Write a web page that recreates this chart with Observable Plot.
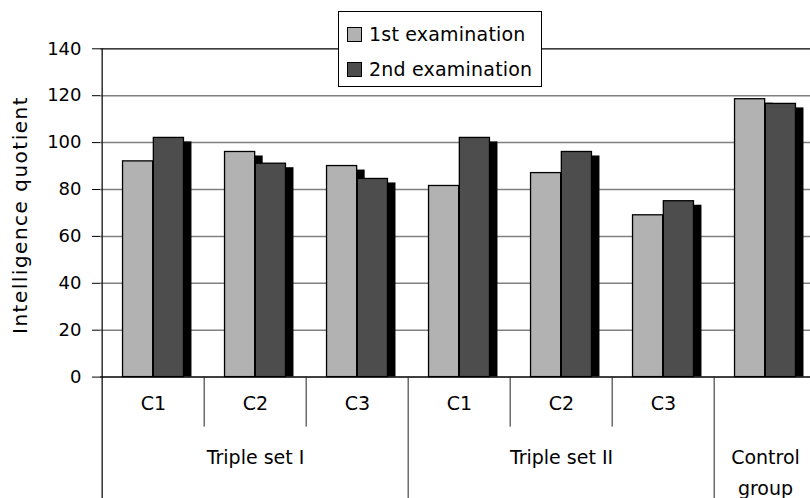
<!DOCTYPE html>
<html>
<head>
<meta charset="utf-8">
<script src="https://cdn.jsdelivr.net/npm/d3@7"></script>
<script src="https://cdn.jsdelivr.net/npm/@observablehq/plot@0.6"></script>
<style>
  html, body { margin: 0; padding: 0; background: white; }
  #wrap { position: relative; width: 810px; height: 498px; overflow: hidden; font-family: "DejaVu Sans", sans-serif; }
  #legend { position: absolute; left: 338px; top: 11px; width: 204px; height: 76px; border: 1px solid black; background: white; box-sizing: border-box; }
  .item { position: absolute; left: 8px; height: 20px; display: flex; align-items: center; font-size: 19px; color: black; white-space: nowrap; letter-spacing: 0.2px; }
  .sw { width: 13px; height: 13px; border: 1.3px solid black; margin-right: 7px; }
</style>
</head>
<body>
<div id="wrap"><div id="legend"></div></div>
<script>
// ---- data ----
const categories = ["I-C1", "I-C2", "I-C3", "II-C1", "II-C2", "II-C3", "Control"];
const subLabels = ["C1", "C2", "C3", "C1", "C2", "C3", ""];
const setLabels = ["Triple set I", "Triple set II", "Control\ngroup"];
const setCenters = ["I-C2", "II-C2", "Control"];
const series = ["1st examination", "2nd examination"];
const firstExam = [92, 96, 90, 81.5, 87, 69, 118.5];
const secondExam = [102, 91, 84.5, 102, 96, 75, 116.5];
const yTicks = [0, 20, 40, 60, 80, 100, 120, 140];
const yLabel = "Intelligence quotient";
const colors = ["#b2b2b2", "#4d4d4d"];

// ---- layout ----
const W = 810, H = 498;
const mL = 100, mT = 48.3, mB = 121.4;
const xRight = 818.7;
const bw = (xRight - mL) / categories.length;
const plotH = H - mB - mT;

const rows1 = categories.map((c, i) => ({cat: c, v: firstExam[i]}));
const rows2 = categories.map((c, i) => ({cat: c, v: secondExam[i]}));
const subRows = categories.map((c, i) => ({cat: c, label: subLabels[i]})).filter(d => d.label);
const setRows = setCenters.map((c, i) => ({cat: c, label: setLabels[i]}));

const inOuter = bw * 0.2, inMid = bw * 0.5;
const shadow = {fill: "black", dx: 8, dy: 4, clip: true};

const chart = Plot.plot({
  width: W, height: H,
  marginLeft: mL, marginRight: 0, marginTop: mT, marginBottom: mB,
  style: {fontFamily: "DejaVu Sans, sans-serif", fontSize: "18px", color: "black", background: "white"},
  x: {type: "band", domain: categories, range: [mL, xRight], padding: 0, axis: null},
  y: {domain: [0, 140], ticks: yTicks, tickSize: 8, tickPadding: 11, label: null, tickFormat: d => String(d)},
  marks: [
    Plot.ruleY(yTicks.filter(t => t > 0 && t < 140), {stroke: "#808080", strokeWidth: 1.5}),
    Plot.ruleY([140], {stroke: "black", strokeWidth: 1.3}),
    Plot.barY(rows1, {x: "cat", y: "v", insetLeft: inOuter, insetRight: inMid, ...shadow}),
    Plot.barY(rows2, {x: "cat", y: "v", insetLeft: inMid, insetRight: inOuter, ...shadow}),
    Plot.barY(rows1, {x: "cat", y: "v", insetLeft: inOuter, insetRight: inMid, fill: colors[0], stroke: "black", strokeWidth: 1.3}),
    Plot.barY(rows2, {x: "cat", y: "v", insetLeft: inMid, insetRight: inOuter, fill: colors[1], stroke: "black", strokeWidth: 1.3}),
    Plot.ruleY([0], {stroke: "black", strokeWidth: 1.5}),
    // left axis line, extended through the category area
    Plot.ruleX([categories[0]], {dx: -bw / 2, insetBottom: -mB, stroke: "#111", strokeWidth: 1.3}),
    // outer dividers
    Plot.ruleX([categories[3], categories[6]], {dx: -bw / 2, insetTop: plotH, insetBottom: -mB, stroke: "#222", strokeWidth: 1}),
    // inner dividers
    Plot.ruleX([categories[1], categories[2], categories[4], categories[5]], {dx: -bw / 2, insetTop: plotH, insetBottom: -50, stroke: "#222", strokeWidth: 1}),
    Plot.text(subRows, {x: "cat", text: "label", frameAnchor: "bottom", dy: 32.5, fontSize: 19}),
    Plot.text(setRows, {x: "cat", text: "label", frameAnchor: "bottom", dy: 65.5, lineAnchor: "top", fontSize: 19, lineHeight: 1.6}),
    Plot.text([yLabel], {text: d => d, frameAnchor: "left", textAnchor: "middle", rotate: -90, dx: -80, dy: 2, fontSize: 20})
  ]
});

chart.querySelectorAll("text").forEach(t => {
  if (t.textContent === yLabel) t.setAttribute("letter-spacing", "1.5");
});

document.getElementById("wrap").prepend(chart);

// ---- legend (HTML overlay) ----
const legend = document.getElementById("legend");
series.forEach((s, i) => {
  const item = document.createElement("div");
  item.className = "item";
  item.style.top = (i === 0 ? 12 : 47) + "px";
  const sw = document.createElement("span");
  sw.className = "sw";
  sw.style.background = colors[i];
  item.appendChild(sw);
  item.appendChild(document.createTextNode(s));
  legend.appendChild(item);
});
</script>
</body>
</html>
